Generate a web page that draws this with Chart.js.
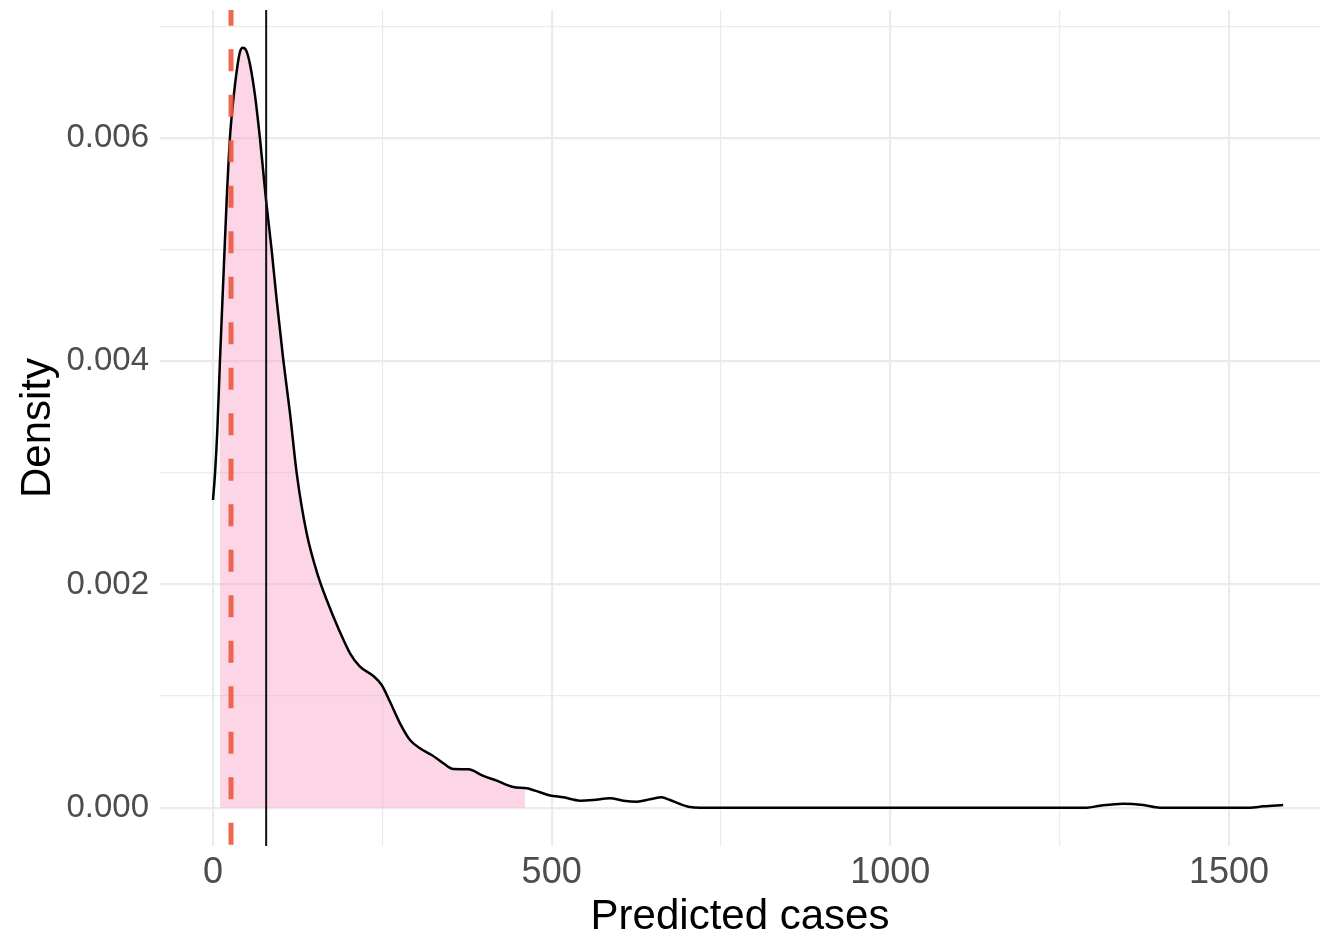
<!DOCTYPE html>
<html><head><meta charset="utf-8">
<script src="https://cdn.jsdelivr.net/npm/chart.js@4.4.0/dist/chart.umd.min.js"></script>
<style>html,body{margin:0;padding:0;background:#fff}#wrap{width:1320px;height:938px;position:relative}</style>
</head><body><div id="wrap"><canvas id="c"></canvas></div>
<script>
// Density curve of predicted cases
const densityX = [0, 3.0, 6.4, 10.3, 15.2, 20.2, 25.1, 30.0, 35.9, 39.9, 43.8, 48.7, 54.6, 62.0, 69.4, 78.3, 86.6, 94.0, 103.8, 113.7, 123.6, 138.3, 155.5, 167.9, 185.0, 202.3, 217.0, 236.7, 249.1, 261.3, 276.1, 290.9, 305.6, 322.9, 340.0, 354.8, 377.0, 399.1, 418.9, 443.4, 463.2, 482.8, 497.6, 517.2, 541.9, 561.5, 586.2, 605.8, 625.6, 645.2, 662.5, 674.7, 689.5, 704.3, 719, 900, 1100, 1290, 1309.6, 1344, 1373.6, 1398, 1531, 1550.7, 1580];
const densityY = [0.002756, 0.002995, 0.003383, 0.004010, 0.004727, 0.005443, 0.006010, 0.006339, 0.006637, 0.006771, 0.006807, 0.006786, 0.006660, 0.006380, 0.005990, 0.005443, 0.004995, 0.004548, 0.004010, 0.003532, 0.002995, 0.002458, 0.002069, 0.001860, 0.001607, 0.001383, 0.001263, 0.001180, 0.001099, 0.000949, 0.000756, 0.000606, 0.000532, 0.000472, 0.000398, 0.000347, 0.000344, 0.000285, 0.000242, 0.000185, 0.000174, 0.000138, 0.000110, 0.000093, 0.000063, 0.000069, 0.000084, 0.000063, 0.000054, 0.000075, 0.000093, 0.000069, 0.000033, 0.000006, 0, 0, 0, 0, 0.000018, 0.000036, 0.000024, 0, 0, 0.000012, 0.000024];
// Shaded interval
const intervalLow = 10.3;
const intervalHigh = 460.7;
const intervalHighDensity = 0.000176;
// Reference lines
const observedCases = 26.6;
const medianPrediction = 78.5;
// Axes
const xRange = [-78.25, 1634.4];
const yRange = [-0.000343, 0.007145];
const xTickValues = [0, 250, 500, 750, 1000, 1250, 1500];
const xTickLabels = ['0', '', '500', '', '1000', '', '1500'];
const yTickValues = [0, 0.001, 0.002, 0.003, 0.004, 0.005, 0.006, 0.007];
const yTickLabels = ['0.000', '', '0.002', '', '0.004', '', '0.006', ''];
const xTitle = 'Predicted cases';
const yTitle = 'Density';

const curve = densityX.map((x, i) => ({x, y: densityY[i]}));
const shaded = curve.filter(p => p.x >= intervalLow && p.x <= intervalHigh);
shaded.push({x: intervalHigh, y: intervalHighDensity});

const FONT = "'Liberation Sans', Arial, Helvetica, sans-serif";
function nearestIdx(arr, v){ let best = 0, bd = Infinity; arr.forEach((t, i) => { const d = Math.abs(t - v); if (d < bd) { bd = d; best = i; } }); return best; }
function gridWidthX(ctx){ if (!ctx.tick) return 1.2; return xTickLabels[nearestIdx(xTickValues, ctx.tick.value)] !== '' ? 2.2 : 1.2; }
function gridWidthY(ctx){ if (!ctx.tick) return 1.2; return yTickLabels[nearestIdx(yTickValues, ctx.tick.value)] !== '' ? 2.2 : 1.2; }

new Chart(document.getElementById('c'), {
  type: 'line',
  data: {
    datasets: [
      { label: 'median', data: [{x: medianPrediction, y: yRange[1]}, {x: medianPrediction, y: yRange[0]}],
        borderColor: '#111', borderWidth: 2, pointRadius: 0, fill: false, order: 0 },
      { label: 'observed', data: [{x: observedCases, y: yRange[1]}, {x: observedCases, y: yRange[0]}],
        borderColor: 'rgba(236,92,66,0.92)', borderWidth: 5, borderDash: [22, 23.5], borderDashOffset: 6.3,
        borderCapStyle: 'butt', pointRadius: 0, fill: false, order: 1 },
      { label: 'density', data: curve, borderColor: '#000', borderWidth: 2.5, pointRadius: 0,
        cubicInterpolationMode: 'monotone', fill: false, order: 2 },
      { label: 'interval', data: shaded, borderWidth: 0, borderColor: 'rgba(0,0,0,0)',
        backgroundColor: 'rgba(247,150,196,0.4)', pointRadius: 0,
        cubicInterpolationMode: 'monotone', fill: 'origin', order: 3 }
    ]
  },
  options: {
    responsive: true, maintainAspectRatio: false, animation: false,
    layout: { padding: { top: 10, left: 0, right: 0, bottom: 0 } },
    plugins: { legend: { display: false }, tooltip: { enabled: false } },
    scales: {
      x: {
        type: 'linear', min: xRange[0], max: xRange[1],
        afterBuildTicks: s => { s.ticks = xTickValues.map(v => ({value: v})); },
        afterFit: s => { s.height = 92; s.paddingLeft = 0; s.paddingRight = 0; },
        border: { display: false },
        grid: { color: '#ebebeb', lineWidth: gridWidthX, drawTicks: false },
        ticks: { padding: 9, color: '#4d4d4d', font: { family: FONT, size: 36, lineHeight: 1 },
          maxRotation: 0, autoSkip: false,
          callback: (v) => xTickLabels[nearestIdx(xTickValues, v)] },
        title: { display: true, text: xTitle, color: '#000', padding: 0,
          font: { family: FONT, size: 42, lineHeight: 1 } }
      },
      y: {
        type: 'linear', min: yRange[0], max: yRange[1],
        afterBuildTicks: s => { s.ticks = yTickValues.map(v => ({value: v})); },
        afterFit: s => { s.width = 160; s.paddingTop = 0; s.paddingBottom = 0; },
        border: { display: false },
        grid: { color: '#ebebeb', lineWidth: gridWidthY, drawTicks: false },
        ticks: { padding: 11, color: '#4d4d4d', font: { family: FONT, size: 33, lineHeight: 1 },
          autoSkip: false,
          callback: (v) => yTickLabels[nearestIdx(yTickValues, v)] },
        title: { display: true, text: yTitle, color: '#000', padding: { top: 17, bottom: 0 },
          font: { family: FONT, size: 42, lineHeight: 1 } }
      }
    }
  }
});
</script></body></html>
